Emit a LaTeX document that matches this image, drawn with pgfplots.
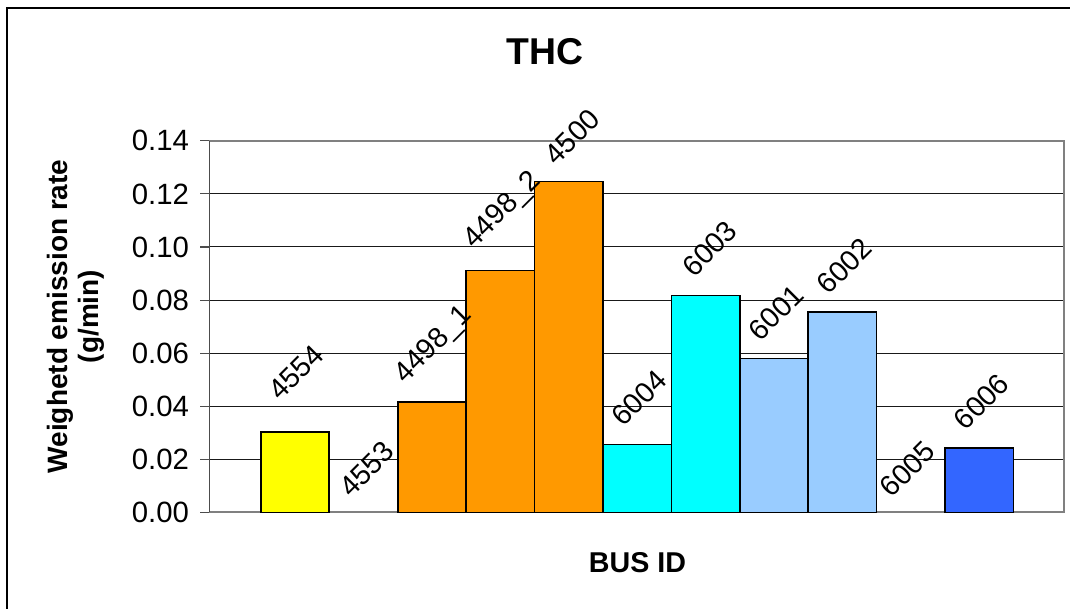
\documentclass[border=0pt]{standalone}
\usepackage{fontspec}
\setmainfont{Liberation Sans}
\usepackage{pgfplots}
\pgfplotsset{compat=1.18}
\definecolor{cyel}{HTML}{FFFF00}
\definecolor{corg}{HTML}{FF9900}
\definecolor{ccyan}{HTML}{00FFFF}
\definecolor{clb}{HTML}{99CCFF}
\definecolor{cblue}{HTML}{3366FF}
\definecolor{framegray}{HTML}{808080}
\begin{document}
\begin{tikzpicture}
\useasboundingbox (0,0) rectangle (802.5pt,456.75pt);
\draw[black, line width=0.9pt] (5.25pt,-2pt) -- (5.25pt,450.75pt) -- (805pt,450.75pt);
\begin{axis}[
  at={(157pt,72.5pt)}, anchor=south west,
  scale only axis, width=641.1pt, height=278.6pt,
  xmin=-1.253, xmax=11.24, ymin=0, ymax=0.14,
  clip=false,
  xtick=\empty,
  ytick={0,0.02,0.04,0.06,0.08,0.10,0.12,0.14},
  /pgf/number format/assume math mode=true,
  yticklabel style={/pgf/number format/fixed, /pgf/number format/fixed zerofill, /pgf/number format/precision=2, xshift=-5pt},
  tick label style={font=\fontsize{22}{26}\selectfont},
  ytick pos=left, tick align=outside, major tick length=6.75pt,
  ytick style={draw=black!70, line width=0.8pt},
  ymajorgrids, major grid style={black!90, line width=0.75pt},
  axis line style={draw=none},
  every axis plot/.append style={ybar, bar width=1, bar shift=0pt, draw=black, line width=1.2pt},
]
\draw[framegray, line width=1.6pt] (rel axis cs:0,0) -- (rel axis cs:1,0) -- (rel axis cs:1,1) -- (rel axis cs:0,1);
\draw[black!70, line width=1.1pt] (rel axis cs:0,0) -- (rel axis cs:0,1);
\addplot[fill=cyel] coordinates {(0,0.0302)};
\addplot[fill=corg] coordinates {(2,0.0415) (3,0.0911) (4,0.1247)};
\addplot[fill=ccyan] coordinates {(5,0.0255) (6,0.0817)};
\addplot[fill=clb] coordinates {(7,0.0580) (8,0.0754)};
\addplot[fill=cblue] coordinates {(10,0.0243)};
\begin{scope}[every node/.style={rotate=45, font=\fontsize{21.5}{25}\selectfont, inner sep=0pt}]
\node at (axis cs:0.015,0.0527) {4554};
\node at (axis cs:1.045,0.0163) {4553};
\node at (axis cs:2.03,0.0630) {4498\_1};
\node at (axis cs:3.04,0.1137) {4498\_2};
\node at (axis cs:4.05,0.1415) {4500};
\node at (axis cs:5.03,0.0430) {6004};
\node at (axis cs:6.06,0.0994) {6003};
\node at (axis cs:7.03,0.0753) {6001};
\node at (axis cs:8.03,0.0928) {6002};
\node at (axis cs:8.95,0.0163) {6005};
\node at (axis cs:10.03,0.0417) {6006};
\end{scope}
\end{axis}
\node[font=\bfseries\fontsize{28}{32}\selectfont] at (408.75pt,417.75pt) {THC};
\node[font=\bfseries\fontsize{21.5}{25}\selectfont] at (478.1pt,34.5pt) {BUS ID};
\node[rotate=90, align=center, font=\bfseries\fontsize{21}{23}\selectfont] at (57pt,219.4pt) {Weighetd emission rate\\(g/min)};
\end{tikzpicture}
\end{document}
